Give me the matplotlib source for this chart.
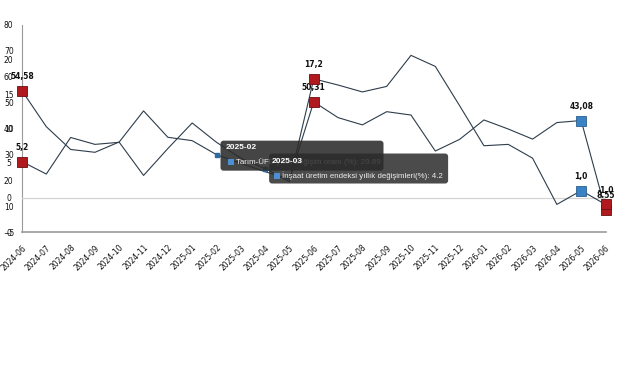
import matplotlib.pyplot as plt
from matplotlib.patches import FancyBboxPatch, Rectangle
from matplotlib.transforms import IdentityTransform

months = ['2024-06', '2024-07', '2024-08', '2024-09', '2024-10', '2024-11', '2024-12',
          '2025-01', '2025-02', '2025-03', '2025-04', '2025-05', '2025-06', '2025-07',
          '2025-08', '2025-09', '2025-10', '2025-11', '2025-12', '2026-01', '2026-02',
          '2026-03', '2026-04', '2026-05', '2026-06']

# Tarım-ÜFE yıllık değişim oranı (%) - sol eksen 0..80
tarim = [54.58, 40.7, 31.9, 30.8, 34.8, 46.8, 36.6, 35.3, 29.89, 26.5, 23.3, 20.4, 50.31,
         44.2, 41.4, 46.5, 45.2, 31.3, 35.8, 43.3, 39.8, 35.9, 42.3, 43.08, 8.55]
# İnşaat üretim endeksi yıllık değişimleri (%) - ikinci eksen -5..25
insaat = [5.2, 3.4, 8.7, 7.7, 8.0, 3.2, 7.1, 10.8, 8.0, 5.7, 4.2, 2.3, 17.2,
          16.3, 15.3, 16.1, 20.6, 19.0, 13.3, 7.5, 7.7, 5.7, -1.0, 1.0, -1.0]

ticks_a = [0, 10, 20, 30, 40, 50, 60, 70, 80]
ticks_b = [-5, 0, 5, 10, 15, 20]

red_idx = [0, 12, 24]
blue_idx = [23]

RED = '#b01a1f'
BLUE = '#3a82c4'
LINE = '#2e3d4c'

plt.rcParams['font.family'] = ['DejaVu Sans']

fig = plt.figure(figsize=(6.41, 3.80), dpi=100)
ax = fig.add_axes([22 / 641, 1 - 232 / 380, (605.5 - 22) / 641, (232 - 25) / 380])
ax.set_xlim(0, 24)
ax.set_ylim(0, 80)
ax2 = ax.twinx()
ax2.set_ylim(-5, 25)

for s in ['top', 'right']:
    ax.spines[s].set_visible(False)
ax.spines['left'].set_color('#999999')
ax.spines['bottom'].set_color('#999999')
ax.spines['bottom'].set_linewidth(1.2)
for s in ax2.spines.values():
    s.set_visible(False)

ax2.axhline(0, color='#d4d4d4', lw=0.9, zorder=0)

x = list(range(len(months)))
ax.plot(x, tarim, color=LINE, lw=0.8)
ax2.plot(x, insaat, color=LINE, lw=0.8)

for a, vals, fmt in [(ax, tarim, '{:.2f}'), (ax2, insaat, '{:.1f}')]:
    for i in red_idx + blue_idx:
        c = RED if i in red_idx else BLUE
        a.plot(i, vals[i], marker='s', ms=7.5, color=c, mec='#6a0d10' if c == RED else '#2a5f90',
               mew=0.6, clip_on=False, zorder=5)
        a.annotate(fmt.format(vals[i]).replace('.', ','), (i, vals[i]), xytext=(0, 7),
                   textcoords='offset points', ha='center', va='bottom',
                   fontsize=5.5, fontweight='bold', color='#111111')

# hover markers
ax.plot(8, tarim[8], marker='s', ms=3.5, color='#2b6aa8', zorder=5)
ax2.plot(10, insaat[10], marker='s', ms=3.5, color='#2b6aa8', zorder=5)

ax.set_xticks(x)
ax.set_xticklabels(months, rotation=45, ha='right', va='top', rotation_mode='anchor',
                   fontsize=5.5, color='#111111')
ax.tick_params(axis='x', length=0, pad=8)

ax.set_yticks(ticks_a)
ax.tick_params(axis='y', length=0, pad=9.5, labelsize=5.5, labelcolor='#111111')
for lbl in ax.get_yticklabels():
    lbl.set_ha('center')
ax2.set_yticks(ticks_b)
ax2.yaxis.tick_left()
ax2.tick_params(axis='y', length=0, pad=9.5, labelsize=5.5, labelcolor='#111111',
                left=True, right=False, labelleft=True, labelright=False)
for lbl in ax2.get_yticklabels():
    lbl.set_ha('center')

# tooltips (pixel offsets from the hovered points)
ident = IdentityTransform()
tip_font = ['Liberation Sans', 'DejaVu Sans']

px, py = ax.transData.transform((8, tarim[8]))
fig.patches.append(FancyBboxPatch((px + 4, py - 16), 163, 30, boxstyle='round,pad=0,rounding_size=3',
                                  fc='#2b2b2b', ec='none', alpha=0.88, transform=ident, zorder=10))
fig.text(px + 9, py + 7, months[8], transform=ident, color='white', fontsize=6,
         fontweight='bold', va='center', ha='left', family=tip_font, zorder=11)
fig.patches.append(Rectangle((px + 11, py - 10.5), 6, 6, fc='#4a90d2', ec='none',
                             transform=ident, zorder=11))
fig.text(px + 19, py - 7.5, 'Tarım-ÜFE yıllık değişim oranı (%): ' + str(tarim[8]), transform=ident,
         color='#eeeeee', fontsize=5.7, va='center', ha='left', family=tip_font, zorder=11)

qx, qy = ax2.transData.transform((10, insaat[10]))
fig.patches.append(FancyBboxPatch((qx + 4, qy - 15), 179, 30, boxstyle='round,pad=0,rounding_size=3',
                                  fc='#2b2b2b', ec='none', alpha=0.85, transform=ident, zorder=12))
fig.text(qx + 7, qy + 7.5, '2025-03', transform=ident, color='white', fontsize=6,
         fontweight='bold', va='center', ha='left', family=tip_font, zorder=13)
fig.patches.append(Rectangle((qx + 9, qy - 10), 6, 6, fc='#4a90d2', ec='none',
                             transform=ident, zorder=13))
fig.text(qx + 17, qy - 7, 'İnşaat üretim endeksi yıllık değişimleri(%): ' + str(insaat[10]),
         transform=ident, color='#eeeeee', fontsize=5.7, va='center', ha='left',
         family=tip_font, zorder=13)

fig.savefig('out.png', dpi=100, facecolor='white')
